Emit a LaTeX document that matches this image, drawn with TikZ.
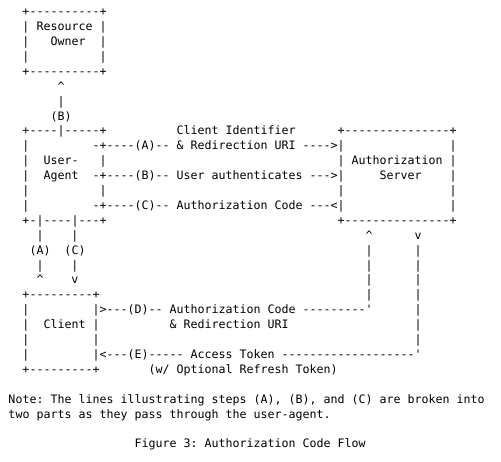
\documentclass[tikz,border=0pt]{standalone}
\usepackage{fontspec}
\setmonofont{DejaVu Sans Mono}
\usepackage{tikz}

\begin{document}
\begin{tikzpicture}[x=7pt, y=-14.9pt,
  ch/.style={anchor=base west, inner sep=0pt, outer sep=0pt,
    font=\ttfamily\fontsize{11.63}{14.9}\selectfont}]
\useasboundingbox[fill=white] (-8.5pt,15.8pt) rectangle (492.5pt,-446.2pt);

% resource owner
\node[ch] (ot) at (2,0) {+----------+};
\node[ch] (o1) at (2,1) {| Resource |};
\node[ch] (o2a) at (2,2) {|};
\node[ch] (o2b) at (6,2) {Owner};
\node[ch] (o2c) at (13,2) {|};
\node[ch] (o3a) at (2,3) {|};
\node[ch] (o3b) at (13,3) {|};
\node[ch] (ob) at (2,4) {+----------+};
\node[ch] (b5) at (7,5) {\textasciicircum};
\node[ch] (b6) at (7,6) {|};
\node[ch] (b7) at (6,7) {(B)};

% user-agent and authorization server
\node[ch] (ut) at (2,8) {+----|-----+};
\node[ch] (cid) at (24,8) {Client Identifier};
\node[ch] (st) at (47,8) {+---------------+};
\node[ch] (u9) at (2,9) {|};
\node[ch] (sa) at (12,9) {-+----(A)-- \& Redirection URI ---->|};
\node[ch] (s9) at (63,9) {|};
\node[ch] (u10) at (2,10) {|};
\node[ch] (user) at (5,10) {User-};
\node[ch] (u10b) at (13,10) {|};
\node[ch] (auth) at (47,10) {| Authorization |};
\node[ch] (u11) at (2,11) {|};
\node[ch] (agent) at (5,11) {Agent};
\node[ch] (sb) at (12,11) {-+----(B)-- User authenticates --->|};
\node[ch] (server) at (53,11) {Server};
\node[ch] (s11) at (63,11) {|};
\node[ch] (u12) at (2,12) {|};
\node[ch] (u12b) at (13,12) {|};
\node[ch] (s12) at (47,12) {|};
\node[ch] (s12b) at (63,12) {|};
\node[ch] (u13) at (2,13) {|};
\node[ch] (sc) at (12,13) {-+----(C)-- Authorization Code ---<|};
\node[ch] (s13) at (63,13) {|};
\node[ch] (ub) at (2,14) {+-|----|---+};
\node[ch] (sbot) at (47,14) {+---------------+};

% legs between the boxes
\node[ch] (a15) at (4,15) {|};
\node[ch] (c15) at (9,15) {|};
\node[ch] (d15) at (51,15) {\textasciicircum};
\node[ch] (e15) at (58,15) {v};
\node[ch] (a16) at (3,16) {(A)};
\node[ch] (c16) at (8,16) {(C)};
\node[ch] (d16) at (51,16) {|};
\node[ch] (e16) at (58,16) {|};
\node[ch] (a17) at (4,17) {|};
\node[ch] (c17) at (9,17) {|};
\node[ch] (d17) at (51,17) {|};
\node[ch] (e17) at (58,17) {|};
\node[ch] (a18) at (4,18) {\textasciicircum};
\node[ch] (c18) at (9,18) {v};
\node[ch] (d18) at (51,18) {|};
\node[ch] (e18) at (58,18) {|};

% client
\node[ch] (ct) at (2,19) {+---------+};
\node[ch] (d19) at (51,19) {|};
\node[ch] (e19) at (58,19) {|};
\node[ch] (c20) at (2,20) {|};
\node[ch] (sd) at (12,20) {|>---(D)-- Authorization Code ---------\textquotesingle};
\node[ch] (e20) at (58,20) {|};
\node[ch] (c21) at (2,21) {|};
\node[ch] (client) at (5,21) {Client |};
\node[ch] (uri) at (23,21) {\& Redirection URI};
\node[ch] (e21) at (58,21) {|};
\node[ch] (c22) at (2,22) {|};
\node[ch] (c22b) at (12,22) {|};
\node[ch] (e22) at (58,22) {|};
\node[ch] (c23) at (2,23) {|};
\node[ch] (se) at (12,23) {|<---(E)----- Access Token -------------------\textquotesingle};
\node[ch] (cb) at (2,24) {+---------+};
\node[ch] (refresh) at (20,24) {(w/ Optional Refresh Token)};

% note and caption
\node[ch] (note) at (0,26) {Note: The lines illustrating steps (A), (B), and (C) are broken into};
\node[ch] (note2) at (0,27) {two parts as they pass through the user-agent.};
\node[ch] (cap) at (18,29) {Figure 3: Authorization Code Flow};
\end{tikzpicture}
\end{document}
